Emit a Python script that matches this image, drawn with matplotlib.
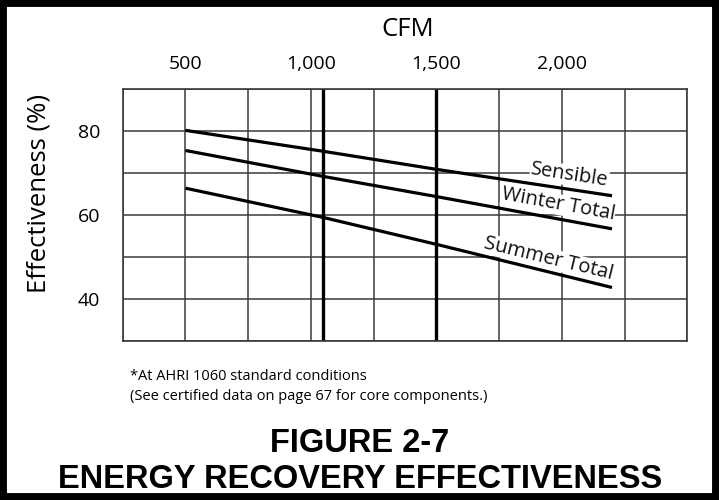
import numpy as np
import matplotlib.pyplot as plt
from matplotlib.patches import Rectangle

# effectiveness curves (CFM vs %)
cfm = [500, 1050, 1500, 2200]
sensible = [80.2, 75.2, 70.9, 64.6]
winter_total = [75.4, 69.2, 64.4, 56.7]
summer_total = [66.4, 59.4, 53.0, 42.7]

curve_labels = ["Sensible", "Winter Total", "Summer Total"]
label_pos = [(2030, 69.5), (1985, 62.5), (1945, 49.6)]

xtick_vals = [500, 1000, 1500, 2000]
xtick_text = ["500", "1,000", "1,500", "2,000"]
ytick_vals = [40, 60, 80]
marker_cfm = [1050, 1500]

font = "Open Sans"

fig = plt.figure(figsize=(7.19, 5.0), dpi=100)
ax = fig.add_axes([122.7 / 719, 1 - 340.7 / 500, 564.6 / 719, 251.4 / 500])
ax.set_xlim(250, 2500)
ax.set_ylim(30, 90)

for gx in np.arange(250, 2501, 250):
    ax.axvline(gx, color="#3a3a3a", lw=1.1, zorder=1)
for gy in np.arange(30, 91, 10):
    ax.axhline(gy, color="#3a3a3a", lw=1.1, zorder=1)
for mx in marker_cfm:
    ax.axvline(mx, color="black", lw=2.4, zorder=2)

for ys in [sensible, winter_total, summer_total]:
    ax.plot(cfm, ys, color="black", lw=2.3, solid_capstyle="butt", zorder=3)

fig.canvas.draw()
for lab, (lx, ly), ys in zip(curve_labels, label_pos, [sensible, winter_total, summer_total]):
    p0 = ax.transData.transform((cfm[1], ys[1]))
    p1 = ax.transData.transform((cfm[-1], ys[-1]))
    ang = np.degrees(np.arctan2(p1[1] - p0[1], p1[0] - p0[0]))
    # white box hides grid lines behind the label, curves stay on top
    ax.text(lx, ly, lab, rotation=ang, rotation_mode="anchor", ha="center", va="center",
            fontsize=14.5, family=font, color="#111111", zorder=2.5,
            bbox=dict(facecolor="white", edgecolor="none", pad=0.3))

ax.set_xticks(xtick_vals)
ax.set_xticklabels(xtick_text)
ax.set_yticks(ytick_vals)
ax.xaxis.tick_top()
ax.tick_params(length=0, labelsize=14, pad=12)
ax.tick_params(axis="y", pad=16)
for t in ax.get_xticklabels() + ax.get_yticklabels():
    t.set_family(font)
for s in ax.spines.values():
    s.set_color("#3a3a3a")
    s.set_linewidth(1.2)

fig.text(408 / 719, 1 - 30 / 500, "CFM", ha="center", va="center", fontsize=18.5, family=font)
fig.text(39 / 719, 1 - 193 / 500, "Effectiveness (%)", ha="center", va="center",
         rotation=90, fontsize=18.5, family=font)

fig.text(130 / 719, 1 - 377 / 500, "*At AHRI 1060 standard conditions", ha="left", va="center",
         fontsize=10.5, family=font)
fig.text(130 / 719, 1 - 397 / 500, "(See certified data on page 67 for core components.)",
         ha="left", va="center", fontsize=10.5, family=font)

title_font = ["Liberation Sans", "DejaVu Sans"]
fig.text(360 / 719, 1 - 444 / 500, "FIGURE 2-7", ha="center", va="center",
         fontsize=23.5, fontweight="bold", family=title_font)
fig.text(360 / 719, 1 - 479 / 500, "ENERGY RECOVERY EFFECTIVENESS", ha="center", va="center",
         fontsize=23.5, fontweight="bold", family=title_font)

fig.patches.append(Rectangle((0, 0), 1, 1, transform=fig.transFigure, fill=False,
                             edgecolor="black", linewidth=10))

fig.savefig("out.png", dpi=100)
